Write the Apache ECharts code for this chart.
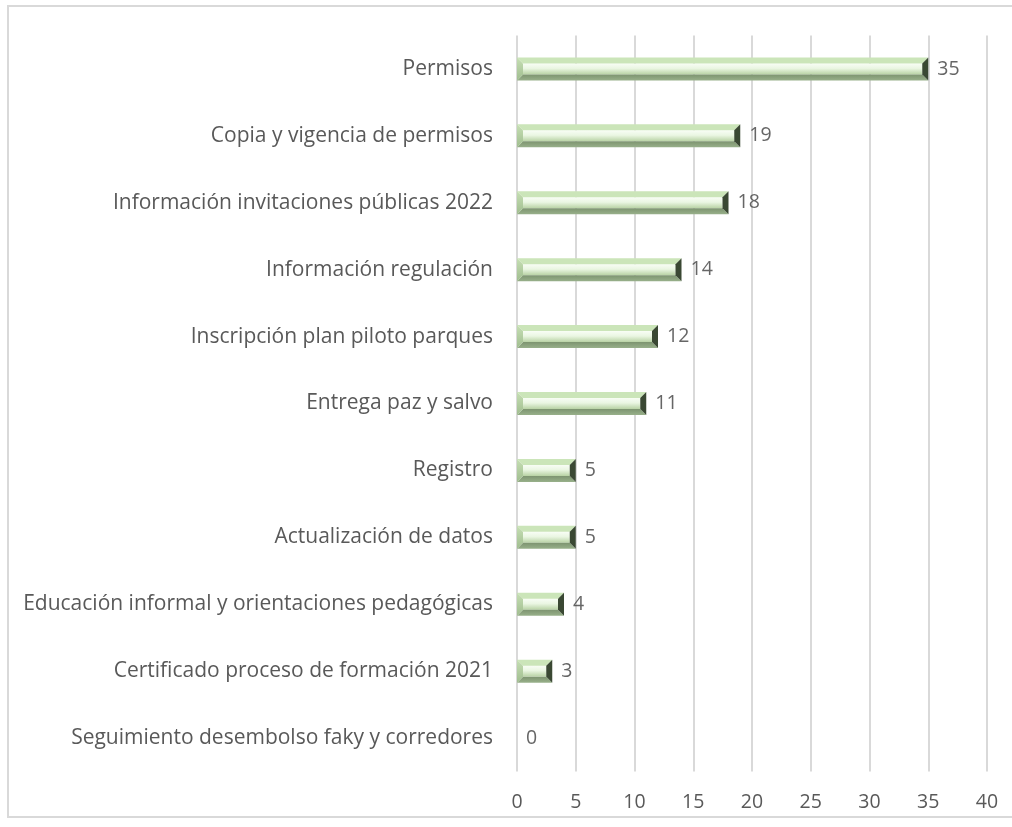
<!DOCTYPE html>
<html>
<head>
<meta charset="utf-8">
<script src="https://cdn.jsdelivr.net/npm/echarts@6/dist/echarts.min.js"></script>
<style>
  html, body { margin: 0; padding: 0; background: #fff; }
  #chart { width: 1012px; height: 827px; }
</style>
</head>
<body>
<div id="chart"></div>
<script>
// categories, bottom to top (category axis draws first item at the bottom)
const categories = [
  'Seguimiento desembolso faky y corredores',
  'Certificado proceso de formación 2021',
  'Educación informal y orientaciones pedagógicas',
  'Actualización de datos',
  'Registro',
  'Entrega paz y salvo',
  'Inscripción plan piloto parques',
  'Información regulación',
  'Información invitaciones públicas 2022',
  'Copia y vigencia de permisos',
  'Permisos'
]
const values = [0, 3, 4, 5, 5, 11, 12, 14, 18, 19, 35]
const xTicks = [0, 5, 10, 15, 20, 25, 30, 35, 40]

const chart = echarts.init(document.getElementById('chart'))

// bar drawn as a bevelled block (light top, dark right end)
function renderBevel (params, api) {
  const idx = api.value(0)
  const val = api.value(1)
  if (!val) return null
  const start = api.coord([0, idx])
  const end = api.coord([val, idx])
  const h = 23
  const x0 = start[0], x1 = end[0]
  const y0 = start[1] - h / 2, y1 = start[1] + h / 2
  const b = 6
  return {
    type: 'group',
    children: [
      { // face
        type: 'rect',
        shape: { x: x0 + b, y: y0 + b, width: Math.max(x1 - x0 - 2 * b, 0), height: h - 2 * b },
        style: {
          fill: new echarts.graphic.LinearGradient(0, 0, 0, 1, [
            { offset: 0, color: '#f8fdf5' },
            { offset: 0.45, color: '#eaf6e2' },
            { offset: 1, color: '#b8d2a4' }
          ])
        }
      },
      { // top
        type: 'polygon',
        shape: { points: [[x0, y0], [x1, y0], [x1 - b, y0 + b], [x0 + b, y0 + b]] },
        style: { fill: '#cbe5b9' }
      },
      { // bottom
        type: 'polygon',
        shape: { points: [[x0, y1], [x1, y1], [x1 - b, y1 - b], [x0 + b, y1 - b]] },
        style: {
          fill: new echarts.graphic.LinearGradient(0, 0, 0, 1, [
            { offset: 0, color: '#7d9470' },
            { offset: 1, color: '#98b08a' }
          ])
        }
      },
      { // left
        type: 'polygon',
        shape: { points: [[x0, y0], [x0 + b, y0 + b], [x0 + b, y1 - b], [x0, y1]] },
        style: {
          fill: new echarts.graphic.LinearGradient(0, 0, 0, 1, [
            { offset: 0, color: '#c6dfb4' },
            { offset: 1, color: '#a0bd8f' }
          ])
        }
      },
      { // right
        type: 'polygon',
        shape: { points: [[x1, y0], [x1 - b, y0 + b], [x1 - b, y1 - b], [x1, y1]] },
        style: { fill: '#3a4833' }
      }
    ]
  }
}

let option = {
  animation: false,
  backgroundColor: '#fff',
  textStyle: { fontFamily: '"Open Sans", sans-serif' },
  graphic: [{
    type: 'rect',
    shape: { x: 8, y: 6, width: 1020, height: 811 },
    style: { fill: 'none', stroke: '#d9d9d9', lineWidth: 2 }
  }],
  grid: { left: 517, right: 25, top: 35.5, bottom: 55.5, containLabel: false },
  xAxis: {
    type: 'value',
    min: xTicks[0],
    max: xTicks[xTicks.length - 1],
    interval: 5,
    axisLine: { show: false },
    axisTick: { show: false },
    axisLabel: { color: '#595959', fontSize: 19.5, margin: 21 },
    splitLine: { lineStyle: { color: '#d9d9d9', width: 2 } }
  },
  yAxis: {
    type: 'category',
    data: categories,
    axisLine: { show: false },
    axisTick: { show: false },
    axisLabel: { color: '#595959', fontSize: 21, margin: 24 }
  },
  series: [{
    type: 'custom',
    renderItem: renderBevel,
    encode: { x: 1, y: 0 },
    data: values.map((v, i) => [i, v]),
    z: 3
  }, {
    // value labels
    type: 'scatter',
    symbolSize: 0,
    data: values.map((v, i) => [v, i]),
    label: {
      show: true,
      position: 'right',
      distance: 9,
      color: '#404040',
      fontSize: 19.5,
      formatter: (p) => p.value[0]
    },
    z: 4
  }]
}
chart.setOption(option)
</script>
</body>
</html>
